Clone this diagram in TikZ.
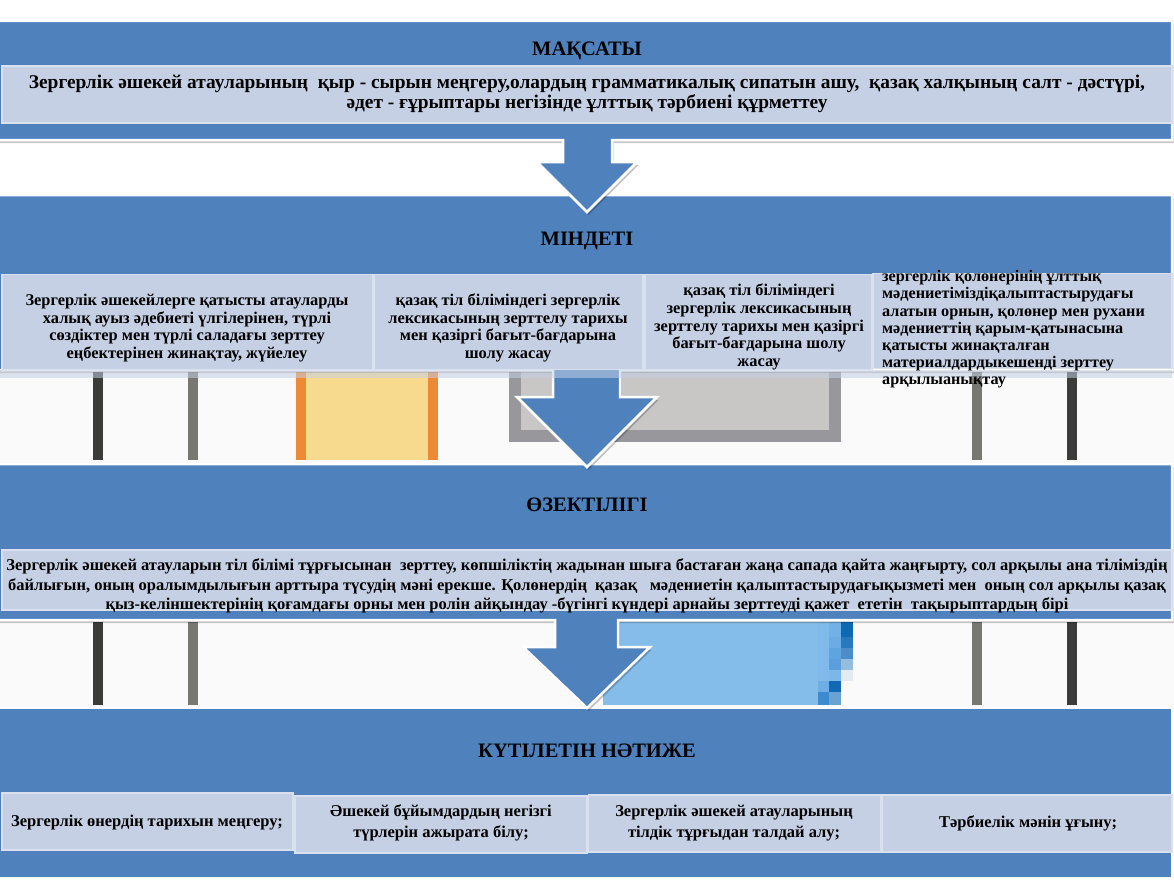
\documentclass[tikz,border=0pt]{standalone}
\usepackage{fontspec}
\setmainfont{Liberation Serif}
\definecolor{band}{HTML}{4F81BD}
\definecolor{lbox}{HTML}{C5D0E4}
\definecolor{lsep}{HTML}{D9E0EE}
\definecolor{dbar}{HTML}{3B3B39}
\definecolor{gbar}{HTML}{797772}
\definecolor{obar}{HTML}{EE8A35}
\definecolor{ybox}{HTML}{F8DA8F}
\definecolor{gout}{HTML}{98979B}
\definecolor{gin}{HTML}{C8C7C5}
\definecolor{sky}{HTML}{85BDEA}
\definecolor{stripbg}{HTML}{FAFAFA}
\definecolor{pa}{HTML}{80BAEA}
\definecolor{pb}{HTML}{6DAEE5}
\definecolor{pc}{HTML}{3C8BCE}
\definecolor{pd}{HTML}{72B1E6}
\definecolor{pe}{HTML}{6AACE3}
\definecolor{pf}{HTML}{5EA4DF}
\definecolor{pg}{HTML}{5A9FDB}
\definecolor{ph}{HTML}{7DB6E8}
\definecolor{pi}{HTML}{1169B5}
\definecolor{pj}{HTML}{68A3D3}
\definecolor{pk}{HTML}{0E69B3}
\definecolor{pl}{HTML}{2878BF}
\definecolor{pm}{HTML}{4C8CC8}
\definecolor{pn}{HTML}{96BCDE}
\definecolor{po}{HTML}{E2EBF4}
\newcommand\fsz[2]{\fontsize{#1}{#2}\selectfont}
\tikzset{
  callout/.style={fill=band, draw=white, line width=2.5pt, line join=miter},
  shadowpath/.style={fill=black, opacity=0.22},
  lightbox/.style={fill=lbox, draw=lsep, line width=1.2pt, inner sep=0pt, outer sep=0pt},
  title/.style={font=\bfseries\fsz{20.5}{24}, text=black, inner sep=0pt},
  txt/.style={text=black, inner sep=0pt, align=center},
  txtl/.style={text=black, inner sep=0pt, align=left},
  fA/.style={font=\bfseries\fsz{19.4}{20.5}},
  fB/.style={font=\bfseries\fsz{16.4}{17.7}},
  fBl/.style={font=\bfseries\fsz{16.2}{17.2}},
  fC/.style={font=\bfseries\fsz{16.5}{19.5}},
  fD/.style={font=\bfseries\fsz{16.5}{20.5}},
}
\begin{document}
\begin{tikzpicture}[x=1pt,y=-1pt]
\useasboundingbox (0,0) rectangle (1174,880);
\fill[white] (0,0) rectangle (1174,880);

% ---------- decorative strip A ----------
\fill[stripbg] (0,370) rectangle (1174,464);
\fill[dbar] (93,372) rectangle (103,460);
\fill[gbar] (188,372) rectangle (198,460);
\fill[obar] (296,372) rectangle (306,460);
\fill[ybox] (306,372) rectangle (428,460);
\fill[obar] (428,372) rectangle (438,460);
\fill[gout] (509,372) rectangle (841,442);
\fill[gin] (521,372) rectangle (829,430);
\fill[gbar] (972,372) rectangle (982,460);
\fill[dbar] (1067,372) rectangle (1077,460);

% ---------- decorative strip B ----------
\fill[stripbg] (0,620) rectangle (1174,708);
\fill[dbar] (93,622) rectangle (103,705);
\fill[gbar] (188,622) rectangle (198,705);
\fill[gbar] (972,622) rectangle (982,705);
\fill[dbar] (1067,622) rectangle (1077,705);
\fill[sky] (603,622) rectangle (818,705);
\fill[pa] (818,622) rectangle (829,681);
\fill[pb] (818,681) rectangle (829,692);
\fill[pc] (818,692) rectangle (829,705);
\fill[pd] (829,622) rectangle (841,637);
\fill[pe] (829,637) rectangle (841,648);
\fill[pf] (829,648) rectangle (841,659);
\fill[pg] (829,659) rectangle (841,670);
\fill[ph] (829,670) rectangle (841,681);
\fill[pi] (829,681) rectangle (841,692);
\fill[pj] (829,692) rectangle (841,705);
\fill[pk] (841,622) rectangle (853,637);
\fill[pl] (841,637) rectangle (853,648);
\fill[pm] (841,648) rectangle (853,659);
\fill[pn] (841,659) rectangle (853,670);
\fill[po] (841,670) rectangle (853,681);

% ---------- section 4 : КҮТІЛЕТІН НӘТИЖЕ ----------
\path[callout] (-5,708) rectangle (1172,878);
\node[title] (t4) at (587,751) {КҮТІЛЕТІН НӘТИЖЕ};
\node[lightbox, minimum width=291pt, minimum height=57pt] (k1) at (147.5,821.5) {};
\node[lightbox, minimum width=292pt, minimum height=57pt] (k2) at (441,824.5) {};
\node[lightbox, minimum width=292pt, minimum height=57pt] (k3) at (734.5,823.5) {};
\node[lightbox, minimum width=290pt, minimum height=57pt] (k4) at (1027,823.5) {};
\node[txt, fD] (kt1) at (147,823) {Зергерлік өнердің тарихын меңгеру;};
\node[txt, fD] (kt2) at (441,823) {Әшекей бұйымдардың негізгі\\ түрлерін ажырата білу;};
\node[txt, fD] (kt3) at (734,823) {Зергерлік әшекей атауларының\\ тілдік тұрғыдан талдай алу;};
\node[txt, fD] (kt4) at (1028,823) {Тәрбиелік мәнін ұғыну;};

% ---------- section 3 : ӨЗЕКТІЛІГІ ----------
\fill[shadowpath, shift={(1.5,3)}] (-5,464) -- (1172,464) -- (1172,620) -- (618,620) -- (618,647) -- (650,647) -- (587,708) -- (523,647) -- (555,647) -- (555,620) -- (-5,620) -- cycle;
\path[callout] (-5,464) -- (1172,464) -- (1172,620) -- (618,620) -- (618,647) -- (650,647) -- (587,708) -- (523,647) -- (555,647) -- (555,620) -- (-5,620) -- cycle;
\node[title] (t3) at (587,505) {ӨЗЕКТІЛІГІ};
\node[lightbox, minimum width=1170pt, minimum height=60pt] (o1) at (587,580) {};
\node[txt, fC] (ot) at (587,586) {Зергерлік әшекей атауларын тіл білімі тұрғысынан \ зерттеу, көпшіліктің жадынан шыға бастаған жаңа сапада қайта жаңғырту, сол арқылы ана тіліміздің\\
байлығын, оның оралымдылығын арттыра түсудің мәні ерекше. Қолөнердің \ қазақ \ \ мәдениетін қалыптастырудағықызметі мен \ оның сол арқылы қазақ\\
қыз-келіншектерінің қоғамдағы орны мен ролін айқындау -бүгінгі күндері арнайы зерттеуді қажет \ ететін \ тақырыптардың бірі};

% ---------- section 2 : МІНДЕТІ ----------
\fill[shadowpath, shift={(1.5,3)}] (-5,195) -- (1172,195) -- (1172,370) -- (620,370) -- (620,397) -- (657,397) -- (587,467) -- (517,397) -- (553,397) -- (553,370) -- (-5,370) -- cycle;
\path[callout] (-5,195) -- (1172,195) -- (1172,370) -- (620,370) -- (620,397) -- (657,397) -- (587,467) -- (517,397) -- (553,397) -- (553,370) -- (-5,370) -- cycle;
\node[title] (t2) at (587,241) {МІНДЕТІ};
\node[lightbox, minimum width=371pt, minimum height=95pt] (m1) at (187.5,322) {};
\node[lightbox, minimum width=269pt, minimum height=95pt] (m2) at (508.5,322) {};
\node[lightbox, minimum width=227pt, minimum height=95pt] (m3) at (758.5,322) {};
\node[lightbox, minimum width=299pt, minimum height=95pt] (m4) at (1022.5,321) {};
\fill[lbox, opacity=0.55] (0,369.5) rectangle (1172,378);
\node[txt, fB] (mt1) at (187,328) {Зергерлік әшекейлерге қатысты атауларды\\ халық ауыз әдебиеті үлгілерінен, түрлі\\ сөздіктер мен түрлі саладағы зерттеу\\ еңбектерінен жинақтау, жүйелеу};
\node[txt, fB] (mt2) at (508,328) {қазақ тіл біліміндегі зергерлік\\ лексикасының зерттелу тарихы\\ мен қазіргі бағыт-бағдарына\\ шолу жасау};
\node[txt, fB] (mt3) at (759,327) {қазақ тіл біліміндегі\\ зергерлік лексикасының\\ зерттелу тарихы мен қазіргі\\ бағыт-бағдарына шолу\\ жасау};
\node[txtl, fBl, anchor=west] (mt4) at (882,329.5) {зергерлік қолөнерінің ұлттық\\ мәдениетіміздіқалыптастырудағы\\ алатын орнын, қолөнер мен рухани\\ мәдениеттің қарым-қатынасына\\ қатысты жинақталған\\ материалдардыкешенді зерттеу\\ арқылыанықтау};

% ---------- section 1 : МАҚСАТЫ ----------
\fill[shadowpath, shift={(1.5,3)}] (-5,21) -- (1172,21) -- (1172,140) -- (612,140) -- (612,162) -- (637,162) -- (587,212) -- (537,162) -- (563,162) -- (563,140) -- (-5,140) -- cycle;
\path[callout] (-5,21) -- (1172,21) -- (1172,140) -- (612,140) -- (612,162) -- (637,162) -- (587,212) -- (537,162) -- (563,162) -- (563,140) -- (-5,140) -- cycle;
\node[title] (t1) at (587,51) {МАҚСАТЫ};
\node[lightbox, minimum width=1170pt, minimum height=57pt] (s1) at (587,94.5) {};
\node[txt, fA] (st) at (587,94) {Зергерлік әшекей атауларының \ қыр - сырын меңгеру,олардың грамматикалық сипатын ашу, \ қазақ халқының салт - дәстүрі,\\ әдет - ғұрыптары негізінде ұлттық тәрбиені құрметтеу};
\end{tikzpicture}
\end{document}
